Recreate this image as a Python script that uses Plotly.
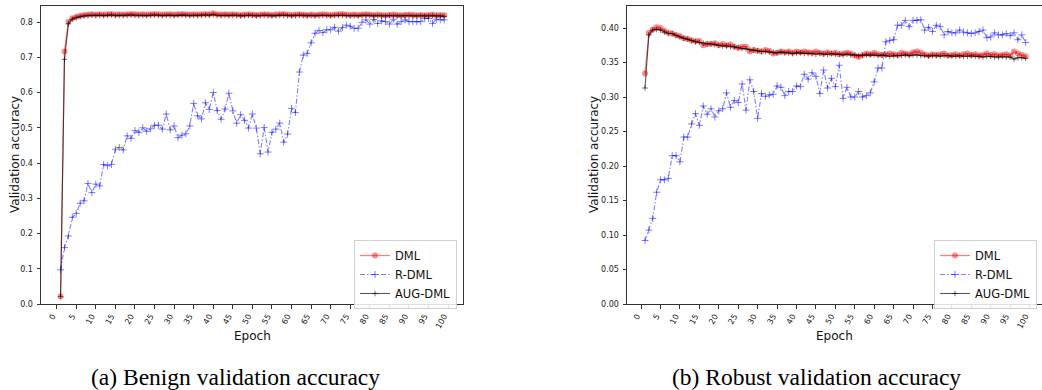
import plotly.graph_objects as go

# ---------------- data ----------------
left_dml = [0.021, 0.716, 0.801, 0.811, 0.815, 0.818, 0.820, 0.821, 0.822, 0.821,
            0.822, 0.821, 0.822, 0.823, 0.821, 0.822, 0.821, 0.822, 0.823, 0.822,
            0.821, 0.822, 0.821, 0.822, 0.823, 0.822, 0.821, 0.822, 0.822, 0.821,
            0.822, 0.823, 0.822, 0.821, 0.822, 0.821, 0.822, 0.823, 0.822, 0.825,
            0.822, 0.821, 0.822, 0.821, 0.822, 0.821, 0.820, 0.821, 0.822, 0.821,
            0.820, 0.821, 0.822, 0.821, 0.820, 0.821, 0.822, 0.823, 0.821, 0.820,
            0.821, 0.822, 0.821, 0.820, 0.821, 0.820, 0.821, 0.822, 0.821, 0.820,
            0.821, 0.822, 0.823, 0.821, 0.820, 0.821, 0.820, 0.821, 0.822, 0.821,
            0.820, 0.821, 0.820, 0.819, 0.820, 0.821, 0.820, 0.819, 0.820, 0.821,
            0.820, 0.819, 0.820, 0.819, 0.820, 0.821, 0.819, 0.820, 0.819]
left_rdml = [0.097, 0.160, 0.193, 0.246, 0.257, 0.286, 0.293, 0.342, 0.316, 0.340,
             0.335, 0.396, 0.392, 0.396, 0.439, 0.444, 0.437, 0.477, 0.470, 0.492,
             0.487, 0.500, 0.490, 0.497, 0.507, 0.507, 0.496, 0.539, 0.494, 0.505,
             0.472, 0.479, 0.483, 0.505, 0.569, 0.534, 0.525, 0.571, 0.552, 0.600,
             0.549, 0.524, 0.553, 0.598, 0.548, 0.513, 0.537, 0.521, 0.499, 0.539,
             0.499, 0.426, 0.501, 0.431, 0.487, 0.496, 0.513, 0.459, 0.482, 0.555,
             0.543, 0.658, 0.706, 0.711, 0.741, 0.768, 0.776, 0.770, 0.778, 0.778,
             0.785, 0.774, 0.784, 0.791, 0.788, 0.782, 0.782, 0.799, 0.806, 0.794,
             0.807, 0.796, 0.803, 0.801, 0.794, 0.808, 0.794, 0.801, 0.806, 0.801,
             0.801, 0.801, 0.801, 0.810, 0.810, 0.796, 0.808, 0.806, 0.806]
left_aug = [0.021, 0.694, 0.795, 0.808, 0.812, 0.815, 0.817, 0.818, 0.819, 0.818,
            0.819, 0.818, 0.819, 0.820, 0.818, 0.819, 0.818, 0.819, 0.820, 0.819,
            0.818, 0.819, 0.818, 0.819, 0.820, 0.819, 0.818, 0.819, 0.819, 0.818,
            0.819, 0.820, 0.819, 0.818, 0.819, 0.818, 0.819, 0.820, 0.819, 0.821,
            0.819, 0.818, 0.819, 0.818, 0.819, 0.818, 0.817, 0.818, 0.819, 0.818,
            0.817, 0.818, 0.819, 0.818, 0.817, 0.818, 0.819, 0.819, 0.818, 0.817,
            0.818, 0.819, 0.818, 0.817, 0.818, 0.817, 0.818, 0.819, 0.818, 0.817,
            0.818, 0.819, 0.819, 0.818, 0.817, 0.818, 0.817, 0.818, 0.819, 0.818,
            0.817, 0.818, 0.817, 0.817, 0.818, 0.818, 0.817, 0.817, 0.818, 0.818,
            0.817, 0.817, 0.818, 0.817, 0.817, 0.818, 0.817, 0.817, 0.816]

right_dml = [0.334, 0.393, 0.398, 0.401, 0.400, 0.396, 0.393, 0.392, 0.390, 0.388,
             0.385, 0.384, 0.382, 0.381, 0.381, 0.375, 0.377, 0.377, 0.378, 0.375,
             0.377, 0.375, 0.376, 0.373, 0.371, 0.373, 0.373, 0.366, 0.368, 0.367,
             0.366, 0.368, 0.367, 0.363, 0.364, 0.366, 0.365, 0.366, 0.364, 0.366,
             0.365, 0.366, 0.365, 0.364, 0.366, 0.364, 0.363, 0.365, 0.363, 0.364,
             0.362, 0.363, 0.364, 0.363, 0.360, 0.358, 0.361, 0.363, 0.362, 0.364,
             0.362, 0.361, 0.362, 0.363, 0.362, 0.361, 0.364, 0.363, 0.362, 0.365,
             0.366, 0.364, 0.362, 0.360, 0.362, 0.361, 0.362, 0.363, 0.360, 0.361,
             0.362, 0.360, 0.362, 0.363, 0.361, 0.362, 0.360, 0.361, 0.363, 0.361,
             0.362, 0.360, 0.361, 0.362, 0.360, 0.366, 0.363, 0.361, 0.359]
right_rdml = [0.092, 0.107, 0.124, 0.162, 0.180, 0.180, 0.182, 0.215, 0.215, 0.206,
              0.242, 0.242, 0.261, 0.276, 0.259, 0.287, 0.275, 0.283, 0.271, 0.280,
              0.283, 0.306, 0.285, 0.295, 0.292, 0.319, 0.281, 0.325, 0.308, 0.269,
              0.305, 0.301, 0.303, 0.304, 0.316, 0.314, 0.302, 0.308, 0.308, 0.316,
              0.315, 0.333, 0.326, 0.335, 0.330, 0.305, 0.339, 0.313, 0.327, 0.315,
              0.346, 0.298, 0.314, 0.300, 0.300, 0.308, 0.300, 0.302, 0.306, 0.322,
              0.342, 0.342, 0.380, 0.382, 0.383, 0.404, 0.404, 0.411, 0.402, 0.411,
              0.411, 0.412, 0.397, 0.401, 0.395, 0.404, 0.402, 0.390, 0.395, 0.393,
              0.393, 0.397, 0.394, 0.393, 0.392, 0.393, 0.395, 0.397, 0.386, 0.387,
              0.393, 0.390, 0.390, 0.392, 0.389, 0.393, 0.383, 0.390, 0.379]
right_aug = [0.313, 0.390, 0.397, 0.398, 0.397, 0.394, 0.392, 0.392, 0.389, 0.387,
             0.385, 0.384, 0.382, 0.380, 0.379, 0.378, 0.377, 0.377, 0.376, 0.375,
             0.374, 0.374, 0.373, 0.373, 0.372, 0.370, 0.370, 0.369, 0.368, 0.367,
             0.366, 0.366, 0.365, 0.365, 0.364, 0.365, 0.364, 0.364, 0.363, 0.364,
             0.364, 0.363, 0.363, 0.363, 0.362, 0.363, 0.362, 0.362, 0.363, 0.362,
             0.362, 0.361, 0.362, 0.361, 0.361, 0.360, 0.360, 0.361, 0.361, 0.361,
             0.360, 0.361, 0.360, 0.359, 0.360, 0.360, 0.360, 0.361, 0.360, 0.361,
             0.361, 0.360, 0.360, 0.359, 0.360, 0.360, 0.359, 0.360, 0.360, 0.359,
             0.359, 0.360, 0.359, 0.359, 0.360, 0.359, 0.359, 0.358, 0.359, 0.359,
             0.358, 0.358, 0.359, 0.358, 0.358, 0.355, 0.357, 0.357, 0.356]

series_names = ["DML", "R-DML", "AUG-DML"]
x_ticks = list(range(0, 101, 5))
left_y_ticks = [0.0, 0.1, 0.2, 0.3, 0.4, 0.5, 0.6, 0.7, 0.8]
right_y_ticks = [0.00, 0.05, 0.10, 0.15, 0.20, 0.25, 0.30, 0.35, 0.40]
captions = ["(a) Benign validation accuracy", "(b) Robust validation accuracy"]

W, H = 1042, 390
FONT = "DejaVu Sans"

def epochs(vals):
    return list(range(1, len(vals) + 1))

fig = go.Figure()

styles = [
    dict(mode="lines+markers",
         line=dict(color="rgba(255,0,0,0.5)", width=1.3),
         marker=dict(symbol="circle", size=6, color="rgba(255,0,0,0.45)")),
    dict(mode="lines+markers",
         line=dict(color="rgba(0,0,255,0.5)", width=1.1, dash="5px,2px,1.5px,2px"),
         marker=dict(symbol="cross-thin", size=5,
                     line=dict(color="rgba(0,0,255,0.5)", width=1))),
    dict(mode="lines+markers",
         line=dict(color="rgba(0,0,0,0.65)", width=1.1),
         marker=dict(symbol="cross-thin", size=4,
                     line=dict(color="rgba(0,0,0,0.55)", width=1))),
]

for panel, (data, xa, ya, leg) in enumerate([
        ((left_dml, left_rdml, left_aug), "x", "y", "legend"),
        ((right_dml, right_rdml, right_aug), "x2", "y2", "legend2")]):
    for name, vals, st in zip(series_names, data, styles):
        fig.add_trace(go.Scatter(x=epochs(vals), y=vals, name=name,
                                 xaxis=xa, yaxis=ya, legend=leg, **st))

def px_x(p):
    return p / W

def px_y(p):
    return (H - p) / H

axis_common = dict(showline=True, linecolor="#333", linewidth=1, ticks="outside",
                   ticklen=3.5, tickcolor="#333", showgrid=False, zeroline=False,
                   automargin=False,
                   tickfont=dict(family=FONT, size=8, color="#222"))

legend_common = dict(xanchor="right", yanchor="top",
                     bgcolor="rgba(255,255,255,0.85)", bordercolor="#d0d0d0",
                     borderwidth=1, font=dict(family=FONT, size=11.5, color="#111"),
                     tracegroupgap=0, itemwidth=30)

fig.update_layout(
    width=W, height=H, margin=dict(l=0, r=0, t=0, b=0, autoexpand=False),
    paper_bgcolor="white", plot_bgcolor="white",
    xaxis=dict(domain=[px_x(41), px_x(463)], range=[-4.0, 103.8], anchor="y",
               tickvals=x_ticks, ticktext=[str(t) for t in x_ticks], tickangle=-60,
               ticklabelshift=-4, mirror=True, **axis_common),
    yaxis=dict(domain=[px_y(304), px_y(6)], range=[0, 0.8454], anchor="x",
               tickvals=left_y_ticks, ticktext=[f"{t:.1f}" for t in left_y_ticks],
               ticklabelstandoff=2, mirror=True, **axis_common),
    xaxis2=dict(domain=[px_x(627), 1.0], range=[-3.63, 103.2], anchor="y2",
                tickvals=x_ticks, ticktext=[str(t) for t in x_ticks], tickangle=-60,
                ticklabelshift=-4, mirror=True, **axis_common),
    yaxis2=dict(domain=[px_y(304), px_y(6)], range=[0, 0.4319], anchor="x2",
                tickvals=right_y_ticks, ticktext=[f"{t:.2f}" for t in right_y_ticks],
                ticklabelstandoff=2, mirror=False, **axis_common),
    legend=dict(x=px_x(457), y=px_y(240), **legend_common),
    legend2=dict(x=px_x(1037), y=px_y(240), **legend_common),
    showlegend=True,
)

annots = [
    dict(text="Validation accuracy", x=px_x(15), y=px_y(155), textangle=-90),
    dict(text="Validation accuracy", x=px_x(594), y=px_y(155), textangle=-90),
    dict(text="Epoch", x=px_x(252), y=px_y(336)),
    dict(text="Epoch", x=px_x(834), y=px_y(336)),
]
for a in annots:
    fig.add_annotation(xref="paper", yref="paper", showarrow=False,
                       xanchor="center", yanchor="middle",
                       font=dict(family=FONT, size=12, color="#111"), **a)

for cap, cx in zip(captions, [235, 816]):
    fig.add_annotation(text=cap, xref="paper", yref="paper", x=px_x(cx), y=px_y(377),
                       showarrow=False, xanchor="center", yanchor="middle",
                       font=dict(family="Liberation Serif", size=23.5, color="black"))

fig.write_html("out.html",
               config={"displayModeBar": False},
               post_script="document.body.style.margin='0px';"
                           "document.body.style.overflow='hidden';")
